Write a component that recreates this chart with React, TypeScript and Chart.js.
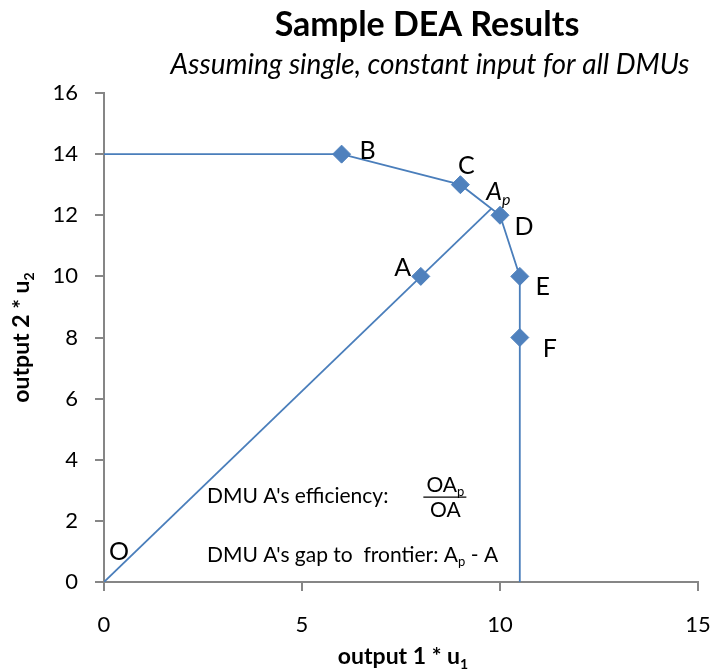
import React, { useEffect, useRef } from "react";
import { Chart, registerables } from "chart.js";

Chart.register(...registerables);

// Decision-making units and their weighted outputs
const dmuNames = ["A", "B", "C", "D", "E", "F"];
const dmuOutput1 = [8, 6, 9, 10, 10.5, 10.5];
const dmuOutput2 = [10, 14, 13, 12, 10, 8];

// Efficient frontier (piecewise linear envelope)
const frontierOutput1 = [0, 6, 9, 10, 10.5, 10.5];
const frontierOutput2 = [14, 14, 13, 12, 10, 0];

// Ray from the origin through A to its projection Ap on the frontier
const rayOutput1 = [0, 9.78];
const rayOutput2 = [0, 12.22];

// Axis ranges / tick steps
const xRange = [0, 15];
const xStep = 5;
const yRange = [0, 16];
const yStep = 2;

const titleText = "Sample DEA Results";
const subtitleText = "Assuming single, constant input for all DMUs";

const FONT = "Lato, 'Open Sans', sans-serif";
const BLUE = "#4F81BD";
const LINE_BLUE = "#4A7EBB";
const AXIS_GREY = "#868686";

type Run = { text: string; bold?: boolean; italic?: boolean; sub?: boolean };

function fontFor(run: Run, size: number) {
  const s = run.sub ? Math.round(size * 0.62) : size;
  return `${run.italic ? "italic " : ""}${run.bold ? "bold " : ""}${s}px ${FONT}`;
}

function runsWidth(ctx: CanvasRenderingContext2D, runs: Run[], size: number) {
  let w = 0;
  for (const r of runs) {
    ctx.font = fontFor(r, size);
    w += ctx.measureText(r.text).width;
  }
  return w;
}

// Draws a line of mixed text (with subscripts) at an alphabetic baseline.
function drawRuns(
  ctx: CanvasRenderingContext2D,
  runs: Run[],
  x: number,
  baseline: number,
  size: number,
  align: "left" | "center" = "left"
) {
  const total = runsWidth(ctx, runs, size);
  let cx = align === "center" ? x - total / 2 : x;
  ctx.textAlign = "left";
  ctx.textBaseline = "alphabetic";
  for (const r of runs) {
    ctx.font = fontFor(r, size);
    ctx.fillText(r.text, cx, baseline + (r.sub ? size * 0.2 : 0));
    cx += ctx.measureText(r.text).width;
  }
}

const deaAnnotations = {
  id: "deaAnnotations",
  afterDraw(chart: any) {
    const { ctx, chartArea, scales } = chart;
    const xs = scales.x;
    const ys = scales.y;
    ctx.save();
    ctx.fillStyle = "#000";

    // Title and subtitle
    drawRuns(ctx, [{ text: titleText, bold: true }], 427, 36, 34, "center");
    drawRuns(ctx, [{ text: subtitleText, italic: true }], 430, 74, 28, "center");

    // Axis titles
    const xMid = (chartArea.left + chartArea.right) / 2;
    drawRuns(
      ctx,
      [
        { text: "output 1 * u", bold: true },
        { text: "1", bold: true, sub: true },
      ],
      xMid + 2,
      664,
      23,
      "center"
    );
    const yMid = (chartArea.top + chartArea.bottom) / 2;
    ctx.save();
    ctx.translate(29, yMid);
    ctx.rotate(-Math.PI / 2);
    drawRuns(
      ctx,
      [
        { text: "output 2 * u", bold: true },
        { text: "2", bold: true, sub: true },
      ],
      0,
      0,
      23,
      "center"
    );
    ctx.restore();

    // DMU letters beside their markers
    const labelSize = 25;
    const capHalf = labelSize * 0.36;
    const offsets: Record<string, [number, number]> = {
      A: [-18, -9],
      B: [26, -4],
      C: [6, -20],
      D: [24, 11],
      E: [23, 10],
      F: [30, 10],
    };
    dmuNames.forEach((name, i) => {
      const px = xs.getPixelForValue(dmuOutput1[i]);
      const py = ys.getPixelForValue(dmuOutput2[i]);
      const [dx, dy] = offsets[name];
      drawRuns(ctx, [{ text: name }], px + dx, py + dy + capHalf, labelSize, "center");
    });

    // Origin label
    const ox = xs.getPixelForValue(rayOutput1[0]);
    const oy = ys.getPixelForValue(rayOutput2[0]);
    drawRuns(ctx, [{ text: "O" }], ox + 15, oy - 31 + capHalf, labelSize, "center");

    // Projection label Ap
    const apx = xs.getPixelForValue(rayOutput1[1]);
    const apy = ys.getPixelForValue(rayOutput2[1]);
    drawRuns(
      ctx,
      [
        { text: "A", italic: true },
        { text: "p", italic: true, sub: true },
      ],
      apx - 5,
      apy - 18 + capHalf,
      labelSize,
      "left"
    );

    // Efficiency and gap notes
    const noteSize = 21;
    const noteX = xs.getPixelForValue(2.6);
    drawRuns(ctx, [{ text: "DMU A's efficiency:" }], noteX, ys.getPixelForValue(2.6), noteSize);
    const fracX = xs.getPixelForValue(8.62);
    const fracY = ys.getPixelForValue(2.78);
    drawRuns(
      ctx,
      [{ text: "OA" }, { text: "p", sub: true }],
      fracX,
      fracY - 5,
      noteSize,
      "center"
    );
    drawRuns(ctx, [{ text: "OA" }], fracX, fracY + 20, noteSize, "center");
    ctx.strokeStyle = "#000";
    ctx.lineWidth = 1.3;
    ctx.beginPath();
    ctx.moveTo(fracX - 22, fracY);
    ctx.lineTo(fracX + 21, fracY);
    ctx.stroke();
    drawRuns(
      ctx,
      [
        { text: "DMU A's gap to  frontier: A" },
        { text: "p", sub: true },
        { text: " - A" },
      ],
      noteX,
      ys.getPixelForValue(0.65),
      noteSize
    );

    ctx.restore();
  },
};

export default function App() {
  const canvasRef = useRef<HTMLCanvasElement | null>(null);

  useEffect(() => {
    const canvas = canvasRef.current;
    if (!canvas) return;

    const dmuPoints = dmuOutput1.map((v, i) => ({ x: v, y: dmuOutput2[i] }));
    const frontierPoints = frontierOutput1.map((v, i) => ({ x: v, y: frontierOutput2[i] }));
    const rayPoints = rayOutput1.map((v, i) => ({ x: v, y: rayOutput2[i] }));

    const axisCommon = {
      type: "linear" as const,
      grid: {
        display: true,
        drawOnChartArea: false,
        drawTicks: true,
        tickLength: 9,
        color: AXIS_GREY,
        lineWidth: 2,
      },
      border: { display: true, color: AXIS_GREY, width: 2 },
    };

    const chart = new Chart(canvas, {
      type: "scatter",
      data: {
        datasets: [
          {
            label: "DMUs",
            data: dmuPoints,
            showLine: false,
            pointStyle: "rectRot",
            pointRadius: 9,
            pointBackgroundColor: BLUE,
            pointBorderColor: BLUE,
            pointBorderWidth: 1,
          },
          {
            label: "Frontier",
            data: frontierPoints,
            showLine: true,
            borderColor: LINE_BLUE,
            borderWidth: 1.8,
            pointRadius: 0,
            fill: false,
          },
          {
            label: "Ray",
            data: rayPoints,
            showLine: true,
            borderColor: LINE_BLUE,
            borderWidth: 1.8,
            pointRadius: 0,
            fill: false,
          },
        ],
      },
      options: {
        responsive: false,
        animation: false,
        layout: { padding: { left: 0, right: 14, top: 93, bottom: 0 } },
        plugins: {
          legend: { display: false },
          tooltip: { enabled: false },
          title: { display: false },
        },
        scales: {
          x: {
            ...axisCommon,
            min: xRange[0],
            max: xRange[1],
            ticks: {
              stepSize: xStep,
              padding: 21,
              color: "#000",
              font: { family: FONT, size: 22 },
              maxRotation: 0,
            },
            afterFit: (scale: any) => {
              scale.height = 89;
              scale.paddingLeft = 0;
              scale.paddingRight = 0;
            },
          },
          y: {
            ...axisCommon,
            min: yRange[0],
            max: yRange[1],
            ticks: {
              stepSize: yStep,
              padding: 17,
              color: "#000",
              font: { family: FONT, size: 22 },
            },
            afterFit: (scale: any) => {
              scale.width = 104;
              scale.paddingTop = 0;
              scale.paddingBottom = 0;
            },
          },
        },
      },
      plugins: [deaAnnotations],
    });

    return () => chart.destroy();
  }, []);

  return (
    <div style={{ position: "absolute", left: 0, top: 0, width: 712, height: 671, background: "#fff" }}>
      <canvas ref={canvasRef} width={712} height={671} />
    </div>
  );
}
